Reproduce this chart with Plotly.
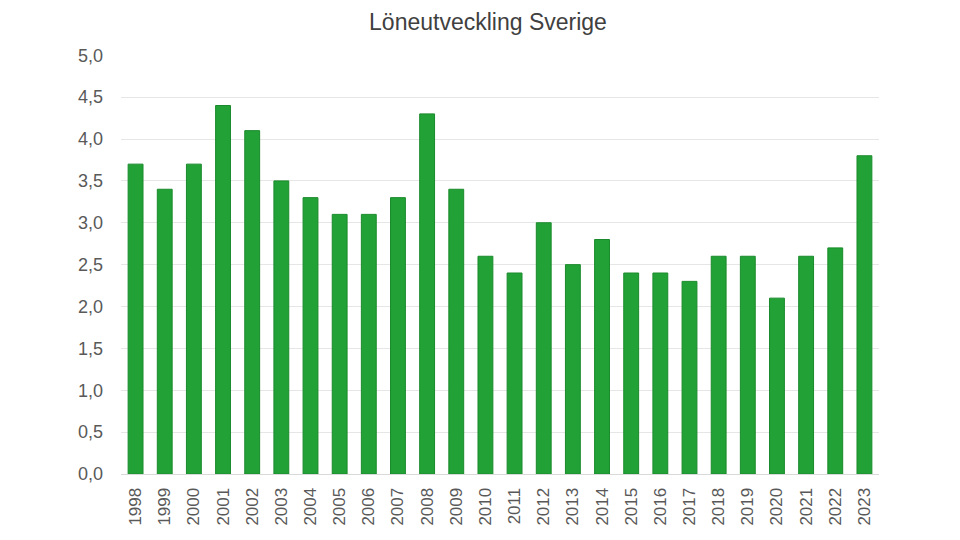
import plotly.graph_objects as go

years = [str(y) for y in range(1998, 2024)]
loneokning = [3.7, 3.4, 3.7, 4.4, 4.1, 3.5, 3.3, 3.1, 3.1, 3.3, 4.3, 3.4, 2.6,
              2.4, 3.0, 2.5, 2.8, 2.4, 2.4, 2.3, 2.6, 2.6, 2.1, 2.6, 2.7, 3.8]
y_ticks = [i * 0.5 for i in range(11)]
y_labels = [f"{v:.1f}".replace(".", ",") for v in y_ticks]

fig = go.Figure()

fig.add_trace(
    go.Bar(
        x=years,
        y=loneokning,
        marker=dict(color="#22a236", line=dict(color="#1a8a2c", width=1)),
        showlegend=False,
    )
)

# sidan har 8 px marginal i body, därför förskjutna marginaler
fig.update_layout(
    width=960,
    height=540,
    bargap=0.49,
    plot_bgcolor="white",
    paper_bgcolor="white",
    font=dict(family="Liberation Sans, Arial, sans-serif", size=17, color="#595959"),
    margin=dict(l=113, r=89, t=47, b=74, autoexpand=False),
    title=dict(
        text="Löneutveckling Sverige",
        font=dict(size=23, color="#404040"),
        x=0.5,
        xanchor="center",
        y=0.974,
        yanchor="middle",
    ),
)

fig.update_xaxes(
    tickangle=-90,
    showgrid=False,
    showline=True,
    linecolor="#d9d9d9",
    linewidth=1,
    ticks="",
    automargin=False,
    ticklabelstandoff=6,
    tickfont=dict(size=17, color="#595959"),
)
fig.update_yaxes(
    range=[0, 5.003],
    tickvals=y_ticks,
    ticktext=y_labels,
    showgrid=True,
    gridcolor="#e6e6e6",
    zeroline=False,
    ticks="",
    automargin=False,
    ticklabelstandoff=17,
    tickfont=dict(size=18, color="#595959"),
)

fig.write_html("out.html")
